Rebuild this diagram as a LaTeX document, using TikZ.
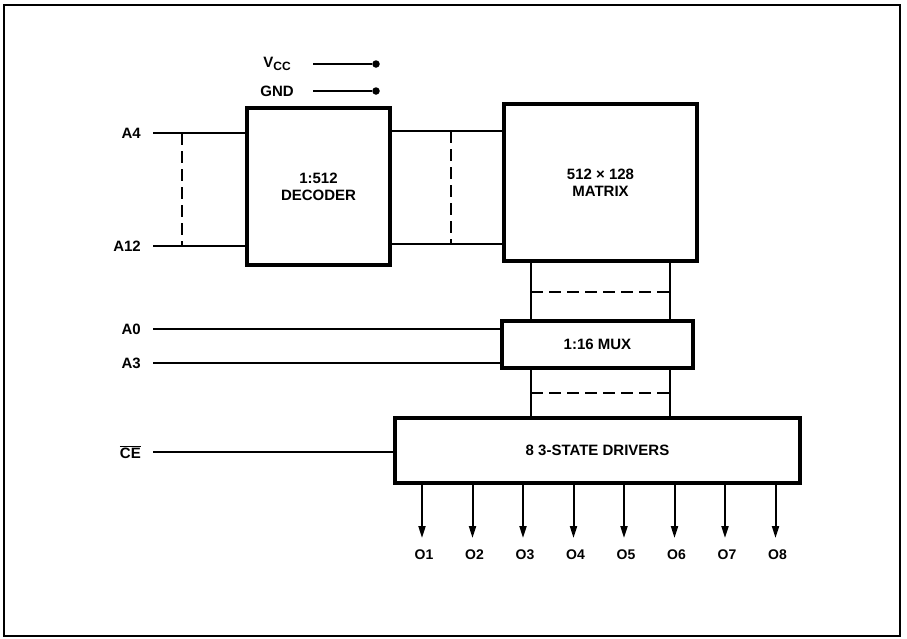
\documentclass[tikz,border=0pt]{standalone}
\usepackage{fontspec}
\setmainfont{Liberation Sans}
\usetikzlibrary{arrows.meta}
\begin{document}
\begin{tikzpicture}[x=1pt,y=-1pt,
  font=\fontsize{15}{18}\selectfont\bfseries,
  blk/.style={draw,line width=3.2pt,inner sep=0pt,align=center},
  sig/.style={line width=1.8pt},
  bus/.style={line width=1.8pt,dash pattern=on 12pt off 6pt},
  lbl/.style={anchor=east,inner sep=0pt},
  outarrow/.style={line width=2pt,-{Triangle[length=12pt,width=7pt]}},
  dot/.style={circle,fill,inner sep=0pt,minimum size=7.5pt}]
\useasboundingbox (0,0) rectangle (907,638);
\draw[line width=2.2pt] (4,5) rectangle (900,636);

% supply
\node (vcc) at (277,64) {V\raisebox{-2.5pt}{\fontsize{12}{12}\selectfont CC}};
\node (gnd) at (277,91) {GND};
\node[dot] (vccdot) at (376,64) {};
\node[dot] (gnddot) at (376,91) {};
\draw[sig] (313,64) -- (vccdot);
\draw[sig] (313,91) -- (gnddot);

% blocks
\node[blk,minimum width=143pt,minimum height=157pt] (dec) at (318.5,186.5) {1:512\\[-1pt]DECODER};
\node[blk,minimum width=193pt,minimum height=157pt] (mat) at (600.5,182.5) {512 × 128\\[-1pt]MATRIX};
\node[blk,minimum width=191pt,minimum height=47pt] (mux) at (597.5,344.5) {1:16 MUX};
\node[blk,minimum width=405pt,minimum height=65pt] (drv) at (597.5,450.5) {8 3-STATE DRIVERS};

% address inputs to decoder
\node[lbl] (a4) at (141,133) {A4};
\node[lbl] (a12) at (141,246) {A12};
\coordinate (a4s) at (153,133);
\coordinate (a12s) at (153,246);
\draw[sig] (a4s) -- (dec.west |- a4s);
\draw[sig] (a12s) -- (dec.west |- a12s);
\draw[bus] (182,133) -- (182,246);

% decoder to matrix
\coordinate (r1) at (390,131);
\coordinate (r2) at (390,244);
\draw[sig] (dec.east |- r1) -- (mat.west |- r1);
\draw[sig] (dec.east |- r2) -- (mat.west |- r2);
\draw[bus] (451,131) -- (451,244);

% matrix to mux bus
\coordinate (bl) at (531,0);
\coordinate (br) at (670,0);
\draw[sig] (mat.south -| bl) -- (mux.north -| bl);
\draw[sig] (mat.south -| br) -- (mux.north -| br);
\draw[bus] (531,292) -- (670,292);

% mux to drivers bus
\draw[sig] (mux.south -| bl) -- (drv.north -| bl);
\draw[sig] (mux.south -| br) -- (drv.north -| br);
\draw[bus] (531,393) -- (670,393);

% mux select inputs
\node[lbl] (a0) at (141,329) {A0};
\node[lbl] (a3) at (141,363) {A3};
\coordinate (a0s) at (153,329);
\coordinate (a3s) at (153,363);
\draw[sig] (a0s) -- (mux.west |- a0s);
\draw[sig] (a3s) -- (mux.west |- a3s);

% chip enable
\node[lbl] (ce) at (141,452) {$\overline{\hbox{\bfseries CE}}$};
\coordinate (ces) at (153,452);
\draw[sig] (ces) -- (drv.west |- ces);

% outputs
\foreach \i [evaluate=\i as \xx using {422+50.5*(\i-1)}] in {1,...,8} {
  \coordinate (o\i top) at (\xx,483);
  \coordinate (o\i tip) at (\xx,538);
  \draw[outarrow] (drv.south -| o\i top) -- (o\i tip);
  \node[font=\fontsize{14}{16}\selectfont\bfseries] (o\i) at (\xx+2,555) {O\i};
}
\end{tikzpicture}
\end{document}
